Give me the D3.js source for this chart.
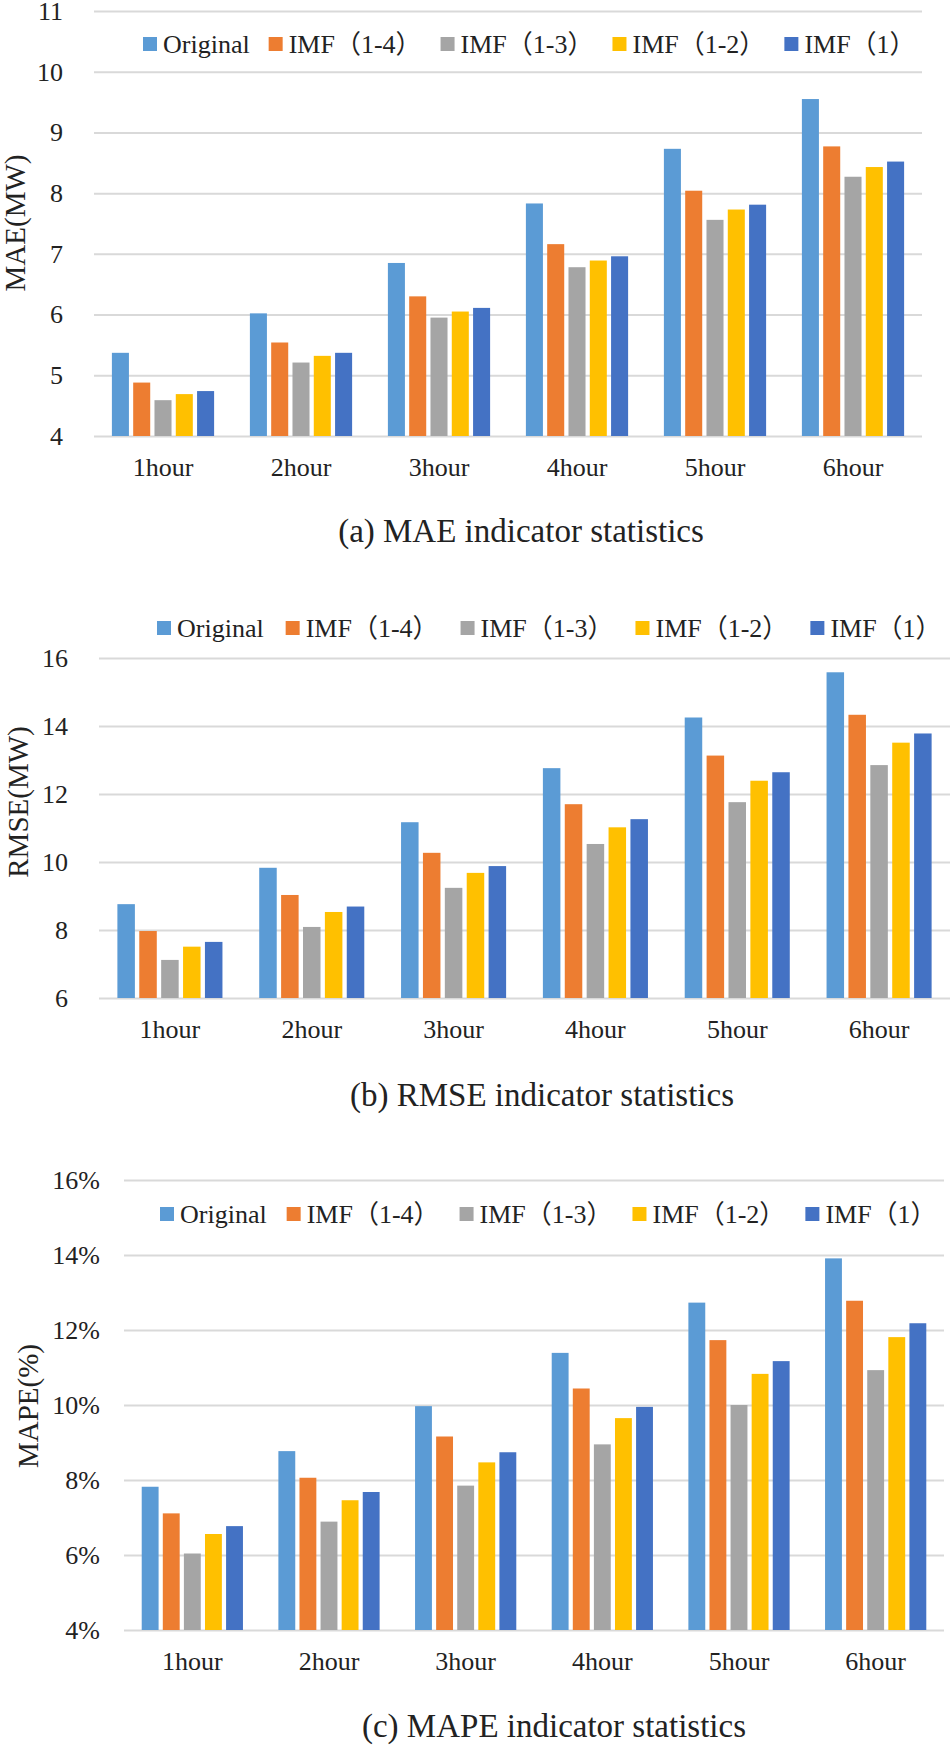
<!DOCTYPE html>
<html lang="en">
<head>
    <meta charset="UTF-8">
    <script src="https://d3js.org/d3.v7.min.js"></script>
    <title>MAE RMSE MAPE</title>
    <style>
        body { margin: 0; background: #fff; }
        svg text { fill: #222; }
    </style>
</head>
<body>
<script>
    var serif = "'Times New Roman', 'Liberation Serif', 'DejaVu Serif', 'Noto Sans CJK SC', serif";

    // categories and series
    var hours = ["1hour", "2hour", "3hour", "4hour", "5hour", "6hour"];
    var seriesNames = ["Original", "IMF（1-4）", "IMF（1-3）", "IMF（1-2）", "IMF（1）"];
    var seriesColors = ["#5b9bd5", "#ed7d31", "#a5a5a5", "#ffc000", "#4472c4"];

    // one row per hour: Original, IMF(1-4), IMF(1-3), IMF(1-2), IMF(1)
    var maeValues = [
        [5.37, 4.88, 4.59, 4.69, 4.74],
        [6.02, 5.54, 5.21, 5.32, 5.37],
        [6.85, 6.30, 5.95, 6.05, 6.11],
        [7.83, 7.16, 6.78, 6.89, 6.96],
        [8.73, 8.04, 7.56, 7.73, 7.81],
        [9.55, 8.77, 8.27, 8.43, 8.52]
    ];
    var rmseValues = [
        [8.76, 7.97, 7.12, 7.51, 7.65],
        [9.83, 9.03, 8.09, 8.53, 8.69],
        [11.17, 10.27, 9.24, 9.68, 9.88],
        [12.76, 11.70, 10.53, 11.02, 11.26],
        [14.25, 13.13, 11.76, 12.39, 12.64],
        [15.58, 14.33, 12.85, 13.51, 13.78]
    ];
    var mapeValues = [
        [7.82, 7.11, 6.04, 6.56, 6.77],
        [8.77, 8.06, 6.89, 7.46, 7.68],
        [9.97, 9.16, 7.85, 8.47, 8.74],
        [11.39, 10.44, 8.95, 9.65, 9.95],
        [12.73, 11.73, 10.00, 10.83, 11.17],
        [13.91, 12.78, 10.93, 11.81, 12.18]
    ];

    // tick labels
    var maeTicks = [4, 5, 6, 7, 8, 9, 10, 11];
    var rmseTicks = [6, 8, 10, 12, 14, 16];
    var mapeTicks = [4, 6, 8, 10, 12, 14, 16];

    var svg = d3.select("body").append("svg")
        .attr("width", 950)
        .attr("height", 1745)
        .style("font-family", serif);

    var charts = [
        {data: maeValues, ticks: maeTicks, fmt: function(d){ return d; },
         left: 94, right: 922, top: 11, bottom: 436, tickPad: 31,
         yTitle: "MAE(MW)", titleX: 15, titleY: 223,
         legendX: 143, legendY: 44, legendGap: 19,
         caption: "(a) MAE indicator statistics", capX: 521, capY: 542},
        {data: rmseValues, ticks: rmseTicks, fmt: function(d){ return d; },
         left: 99, right: 950, top: 658, bottom: 998, tickPad: 31,
         yTitle: "RMSE(MW)", titleX: 18, titleY: 802,
         legendX: 157, legendY: 628, legendGap: 22,
         caption: "(b) RMSE indicator statistics", capX: 542, capY: 1106},
        {data: mapeValues, ticks: mapeTicks, fmt: function(d){ return d + "%"; },
         left: 124, right: 944, top: 1180, bottom: 1630, tickPad: 24,
         yTitle: "MAPE(%)", titleX: 28, titleY: 1406,
         legendX: 160, legendY: 1214, legendGap: 20,
         caption: "(c) MAPE indicator statistics", capX: 554, capY: 1737}
    ];

    charts.forEach(function(c) {
        var w = c.right - c.left;
        var g = svg.append("g").attr("transform", "translate(" + c.left + "," + 0 + ")");

        var x0 = d3.scaleBand().domain(hours).range([0, w]);
        var x1 = d3.scaleBand().domain(d3.range(seriesNames.length))
            .range([0, x0.bandwidth()]).paddingInner(0.2).paddingOuter(0.84);
        var y = d3.scaleLinear()
            .domain(d3.extent(c.ticks))
            .range([c.bottom, c.top]);

        // gridlines + y tick labels
        var yAxis = g.append("g")
            .call(d3.axisLeft(y).tickValues(c.ticks).tickFormat(c.fmt)
                .tickSize(-w).tickPadding(c.tickPad));
        yAxis.attr("font-family", null);
        yAxis.select(".domain").remove();
        yAxis.selectAll("line").attr("stroke", "#d9d9d9").attr("stroke-width", 2);
        yAxis.selectAll("text").attr("font-size", "26px").attr("fill", "#222");

        // x labels
        var xAxis = g.append("g")
            .attr("transform", "translate(0," + c.bottom + ")")
            .call(d3.axisBottom(x0).tickSize(0).tickPadding(22));
        xAxis.attr("font-family", null);
        xAxis.select(".domain").remove();
        xAxis.selectAll("text").attr("font-size", "26px").attr("fill", "#222");

        // bars
        g.selectAll(".grp").data(c.data).enter().append("g")
            .attr("transform", function(d, i){ return "translate(" + x0(hours[i]) + ",0)"; })
            .selectAll("rect").data(function(d){ return d; }).enter().append("rect")
            .attr("x", function(d, j){ return x1(j); })
            .attr("y", function(d){ return y(d); })
            .attr("width", x1.bandwidth())
            .attr("height", function(d){ return c.bottom - y(d); })
            .attr("fill", function(d, j){ return seriesColors[j]; });

        // y title
        svg.append("text")
            .attr("transform", "translate(" + c.titleX + "," + c.titleY + ") rotate(-90)")
            .attr("text-anchor", "middle")
            .attr("dominant-baseline", "central")
            .attr("font-size", "29px")
            .text(c.yTitle);

        // legend
        var lx = c.legendX;
        seriesNames.forEach(function(name, j) {
            svg.append("rect")
                .attr("x", lx).attr("y", c.legendY - 7)
                .attr("width", 14).attr("height", 14)
                .attr("fill", seriesColors[j]);
            var t = svg.append("text")
                .attr("x", lx + 20).attr("y", c.legendY)
                .attr("dominant-baseline", "central")
                .attr("font-size", "26px")
                .text(name);
            lx += 20 + t.node().getComputedTextLength() + c.legendGap;
        });

        // caption
        svg.append("text")
            .attr("x", c.capX).attr("y", c.capY)
            .attr("text-anchor", "middle")
            .attr("font-size", "33px")
            .text(c.caption);
    });
</script>
</body>
</html>
